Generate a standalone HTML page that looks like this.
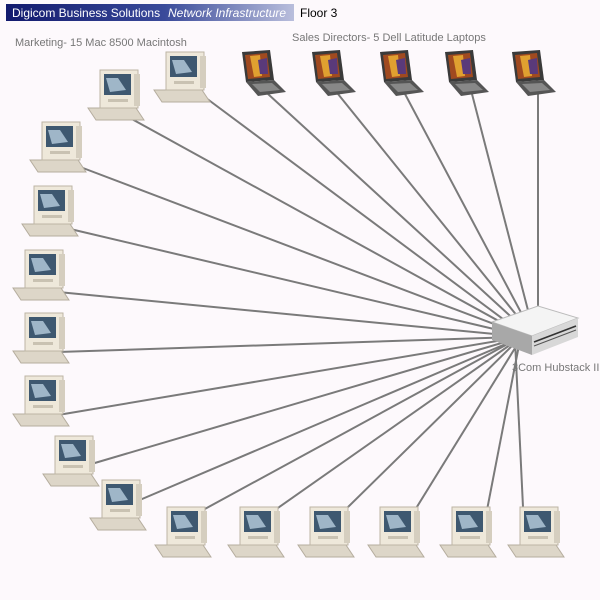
<!DOCTYPE html>
<html><head><style>
html,body{margin:0;padding:0;background:#fdf9fc;}
svg{display:block;}
text{font-family:"Liberation Sans",sans-serif;}
</style></head><body>
<svg width="600" height="600" xmlns="http://www.w3.org/2000/svg">
<defs>
<linearGradient id="hdr" x1="0" x2="1" y1="0" y2="0">
<stop offset="0" stop-color="#121a6e"/><stop offset="0.55" stop-color="#3a4a9a"/><stop offset="1" stop-color="#b9bedc"/>
</linearGradient>
<g id="mac">
<polygon points="-12,38 36,38 44,50 -4,50" fill="#ddd6c8" stroke="#b5ad9e"/>
<rect x="0" y="0" width="38" height="38" fill="#eee8da" stroke="#bdb5a5"/>
<rect x="34" y="4" width="6" height="32" fill="#d5cebf"/>
<rect x="4" y="4" width="27" height="21" fill="#3e5870"/>
<polygon points="6,8 18,8 26,20 10,22" fill="#9fb6c8"/>
<rect x="8" y="29" width="20" height="3" fill="#c9c2b2"/>
</g>
<g id="lap">
<polygon points="2,2 30,0 34,30 6,32" fill="#3a3a3a"/>
<polygon points="5,5 27,3 30,27 8,29" fill="#a04a20"/>
<polygon points="10,6 20,5 22,26 14,27" fill="#e0a030"/>
<polygon points="18,10 27,8 28,24 20,24" fill="#5a3a7a"/>
<polygon points="6,32 34,30 46,42 18,46" fill="#555"/>
<polygon points="12,34 32,33 40,40 20,42" fill="#888"/>
</g>
</defs>
<rect x="6" y="4" width="288" height="17" fill="url(#hdr)"/>
<text x="12" y="17" font-size="12" fill="#fff">Digicom Business Solutions</text>
<text x="168" y="17" font-size="12" fill="#fff" font-style="italic">Network Infrastructure</text>
<text x="300" y="17" font-size="12" fill="#000">Floor 3</text>
<text x="15" y="46" font-size="11" fill="#777">Marketing- 15 Mac 8500 Macintosh</text>
<text x="292" y="41" font-size="11" fill="#777">Sales Directors- 5 Dell Latitude Laptops</text>
<g stroke="#7a7a7a" stroke-width="2">
<line x1="130" y1="118" x2="515" y2="330"/>
<line x1="206" y1="98" x2="515" y2="328"/>
<line x1="75" y1="165" x2="515" y2="332"/>
<line x1="66" y1="228" x2="515" y2="334"/>
<line x1="58" y1="292" x2="515" y2="336"/>
<line x1="58" y1="352" x2="515" y2="337"/>
<line x1="58" y1="415" x2="515" y2="338"/>
<line x1="88" y1="465" x2="515" y2="339"/>
<line x1="128" y1="505" x2="515" y2="340"/>
<line x1="203" y1="510" x2="515" y2="340"/>
<line x1="275" y1="510" x2="517" y2="340"/>
<line x1="345" y1="510" x2="518" y2="340"/>
<line x1="415" y1="510" x2="520" y2="340"/>
<line x1="487" y1="510" x2="520" y2="340"/>
<line x1="523" y1="507" x2="515" y2="340"/>
<line x1="268" y1="94" x2="520" y2="325"/>
<line x1="338" y1="94" x2="522" y2="322"/>
<line x1="405" y1="94" x2="525" y2="320"/>
<line x1="472" y1="94" x2="530" y2="318"/>
<line x1="538" y1="94" x2="538" y2="318"/>
</g>
<use href="#mac" x="100" y="70"/>
<use href="#mac" x="166" y="52"/>
<use href="#mac" x="42" y="122"/>
<use href="#mac" x="34" y="186"/>
<use href="#mac" x="25" y="250"/>
<use href="#mac" x="25" y="313"/>
<use href="#mac" x="25" y="376"/>
<use href="#mac" x="55" y="436"/>
<use href="#mac" x="102" y="480"/>
<use href="#mac" x="167" y="507"/>
<use href="#mac" x="240" y="507"/>
<use href="#mac" x="310" y="507"/>
<use href="#mac" x="380" y="507"/>
<use href="#mac" x="452" y="507"/>
<use href="#mac" x="520" y="507"/>
<use href="#lap" x="240" y="50"/>
<use href="#lap" x="310" y="50"/>
<use href="#lap" x="378" y="50"/>
<use href="#lap" x="443" y="50"/>
<use href="#lap" x="510" y="50"/>
<polygon points="492,322 538,306 578,318 532,336" fill="#f4f4f4" stroke="#bbb"/>
<polygon points="492,322 532,336 532,355 492,340" fill="#a8a8a8"/>
<polygon points="532,336 578,318 578,337 532,355" fill="#d8d8d8"/>
<line x1="534" y1="342" x2="576" y2="326" stroke="#333" stroke-width="1.5"/>
<line x1="534" y1="346" x2="576" y2="330" stroke="#555" stroke-width="1"/>
<text x="512" y="371" font-size="11" fill="#777">3Com Hubstack II</text>
</svg>
</body></html>
